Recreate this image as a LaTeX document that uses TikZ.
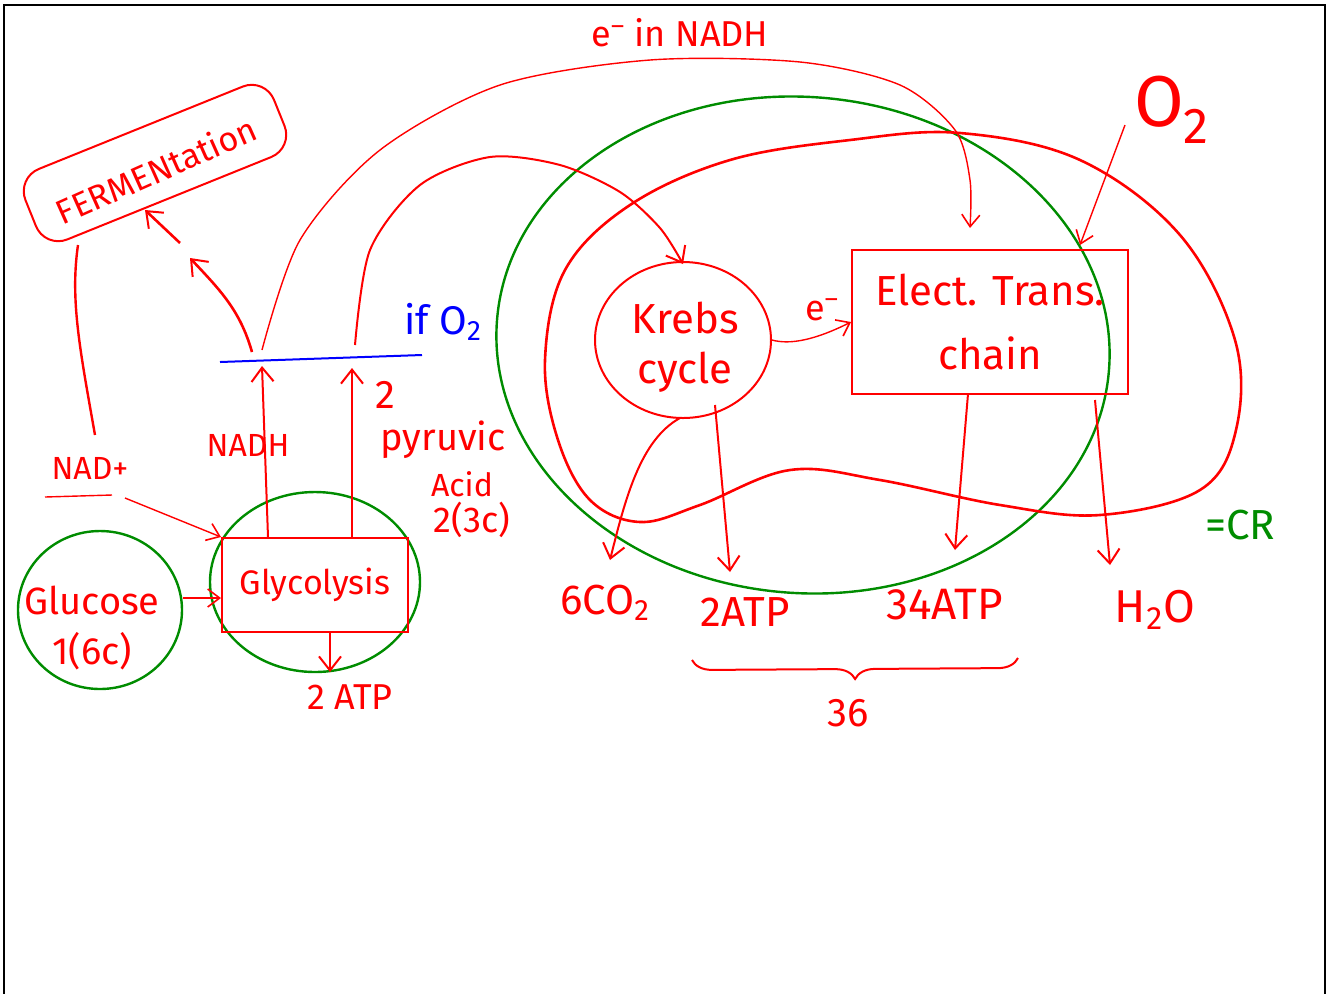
\documentclass[tikz,border=0pt]{standalone}
\usepackage{fontspec}
\setmainfont{Fira Sans}
\usetikzlibrary{arrows.meta,shapes.geometric,decorations.pathreplacing}
\definecolor{pen}{RGB}{255,0,0}
\definecolor{gpen}{RGB}{0,140,0}
\definecolor{bpen}{RGB}{0,0,255}
\newcommand\myfs[2]{\fontsize{#1}{#2}\selectfont}
\begin{document}
\begin{tikzpicture}[x=0.5pt,y=-0.5pt,
  redline/.style={draw=pen, line width=1pt},
  thinline/.style={draw=pen, line width=0.7pt},
  arr/.style={draw=pen, line width=1pt, -{Straight Barb[length=7pt,width=11pt,line width=1pt]}},
  thinarr/.style={draw=pen, line width=0.7pt, -{Straight Barb[length=6pt,width=9pt,line width=0.8pt]}},
  lbl/.style={text=pen, inner sep=0pt, align=center},
  redbox/.style={draw=pen, line width=1pt, rectangle, inner sep=0pt, align=center, text=pen},
  rcirc/.style={draw=pen, line width=1pt, ellipse, inner sep=0pt},
  gcirc/.style={draw=gpen, line width=1.2pt, ellipse, inner sep=0pt}]
\useasboundingbox (0,0) rectangle (1334,993);
% frame
\draw[black, line width=1.2pt] (4,995) -- (4,5) -- (1325,5) -- (1325,995);

% big green circle (cellular respiration)
\node[gcirc, minimum width=307pt, minimum height=248pt, rotate=-5] (cr) at (803,345) {};
% big red loop
\draw[redline, line width=1.3pt] plot[smooth cycle, tension=0.6] coordinates {
  (640,522) (590,500) (558,440) (545,360) (565,270) (630,205) (730,160) (850,140)
  (960,133) (1080,160) (1180,235) (1235,340) (1236,430) (1200,490) (1100,515)
  (1000,505) (880,480) (790,470) (700,505)};

% nodes
\node[draw=pen, line width=1pt, rounded corners=12pt, rectangle, rotate=22,
      minimum width=134pt, minimum height=38pt, inner sep=0pt] (ferm) at (155,163) {};
\node[lbl, rotate=24, font=\myfs{17}{20}] (fermtxt) at (156,170) {FERMENtation};
\node[gcirc, minimum width=82pt, minimum height=79pt] (gluc) at (100,610) {};
\node[lbl, font=\myfs{19}{25}] (gluctxt) at (92,628) {Glucose\\1(6c)};
\node[gcirc, minimum width=105pt, minimum height=90pt] (glycring) at (315,582) {};
\node[redbox, minimum width=93pt, minimum height=47pt, font=\myfs{17}{20}] (glyc) at (315,585) {Glycolysis};
\node[rcirc, minimum width=88pt, minimum height=78pt] (krebs) at (683,340) {};
\node[lbl, font=\myfs{21}{25}] (krebstxt) at (685,347) {Krebs\\cycle};
\node[redbox, minimum width=138pt, minimum height=72pt, font=\myfs{21}{32}] (etc) at (990,322) {Elect. Trans.\\chain};

% labels
\node[lbl, font=\myfs{18}{20}] (enadh) at (680,33) {e\textsuperscript{–} in NADH};
\node[lbl, font=\myfs{36}{40}] (otwo) at (1172,110) {O\textsubscript{2}};
\node[lbl, text=bpen, font=\myfs{20}{22}] (ifo) at (443,322) {if O\textsubscript{2}};
\node[lbl, font=\myfs{16}{18}] (nadh) at (248,445) {NADH};
\node[lbl, font=\myfs{16}{18}] (nadp) at (90,468) {NAD+};
\node[lbl, font=\myfs{20}{22}] (two) at (385,395) {2};
\node[lbl, font=\myfs{19}{22}] (pyr) at (443,440) {pyruvic};
\node[lbl, font=\myfs{16}{18}] (acid) at (462,484) {Acid};
\node[lbl, font=\myfs{18}{20}] (threec) at (472,520) {2(3c)};
\node[lbl, font=\myfs{18}{20}] (atpg) at (350,697) {2 ATP};
\node[lbl, font=\myfs{18}{20}] (eminus) at (822,310) {e\textsuperscript{–}};
\node[lbl, font=\myfs{21}{22}] (co2) at (605,603) {6CO\textsubscript{2}};
\node[lbl, font=\myfs{21}{22}] (atpk) at (745,612) {2ATP};
\node[lbl, font=\myfs{22}{22}] (atpe) at (945,605) {34ATP};
\node[lbl, font=\myfs{23}{22}] (water) at (1155,610) {H\textsubscript{2}O};
\node[lbl, font=\myfs{20}{22}] (thirtysix) at (848,713) {36};
\node[lbl, text=gpen, font=\myfs{21}{22}] (crl) at (1240,525) {=CR};

% coordinates
\coordinate (bl1) at (220,362);
\coordinate (bl2) at (422,355);
\coordinate (nadhtop) at (262,366);
\coordinate (pyrtop) at (352,368);
\coordinate (etcin) at (970,228);
\coordinate (krebsin) at (683,264);
\coordinate (fermA) at (190,258);
\coordinate (fermB) at (180,243);
\coordinate (fermC) at (145,210);
\coordinate (nadstart) at (125,498);
\coordinate (nadup) at (95,435);
\coordinate (fermbot) at (78,245);
\coordinate (o2tail) at (1125,125);
\coordinate (etccorner) at (1080,245);
\coordinate (br1) at (692,660);
\coordinate (br2) at (1018,658);

% blue line
\draw[draw=bpen, line width=1pt] (bl1) -- (bl2);

% arrows
\draw[thinarr] (gluc.east |- 0,598) -- (glyc.west |- 0,598);
\draw[thinline] (45,497) -- (112,495);
\draw[thinarr] (nadstart) -- (glyc.north west);
\draw[redline, line width=1.2pt] (nadup) .. controls (80,350) and (70,300) .. (fermbot);
\draw[arr] (glyc.south -| 330,0) -- (330,672);
\draw[arr] (glyc.north -| 268,0) -- (nadhtop);
\draw[arr] (glyc.north -| 352,0) -- (pyrtop);
\draw[arr, line width=1.3pt] (252,352) .. controls (240,310) and (220,290) .. (fermA);
\draw[arr, line width=1.3pt] (fermB) -- (fermC);
\draw[thinarr] plot[smooth] coordinates {(262,350) (300,240) (380,150) (500,85) (650,60)
  (800,62) (900,85) (955,130) (970,180) (etcin)};
\draw[arr] plot[smooth] coordinates {(355,345) (370,250) (420,185) (490,157) (560,165)
  (620,192) (660,228) (krebsin)};
\draw[thinarr] (krebs.east) .. controls (790,345) and (815,340) .. (etc.west);
\draw[thinarr] (o2tail) -- (etccorner);
\draw[arr] (680,418) .. controls (640,440) and (625,500) .. (610,560);
\draw[arr] (715,405) -- (730,572);
\draw[arr] (968,394) -- (955,550);
\draw[arr] (1095,400) -- (1110,565);
\draw[redline, decorate, decoration={brace, amplitude=10pt, mirror}] (br1) -- (br2);
\end{tikzpicture}
\end{document}
